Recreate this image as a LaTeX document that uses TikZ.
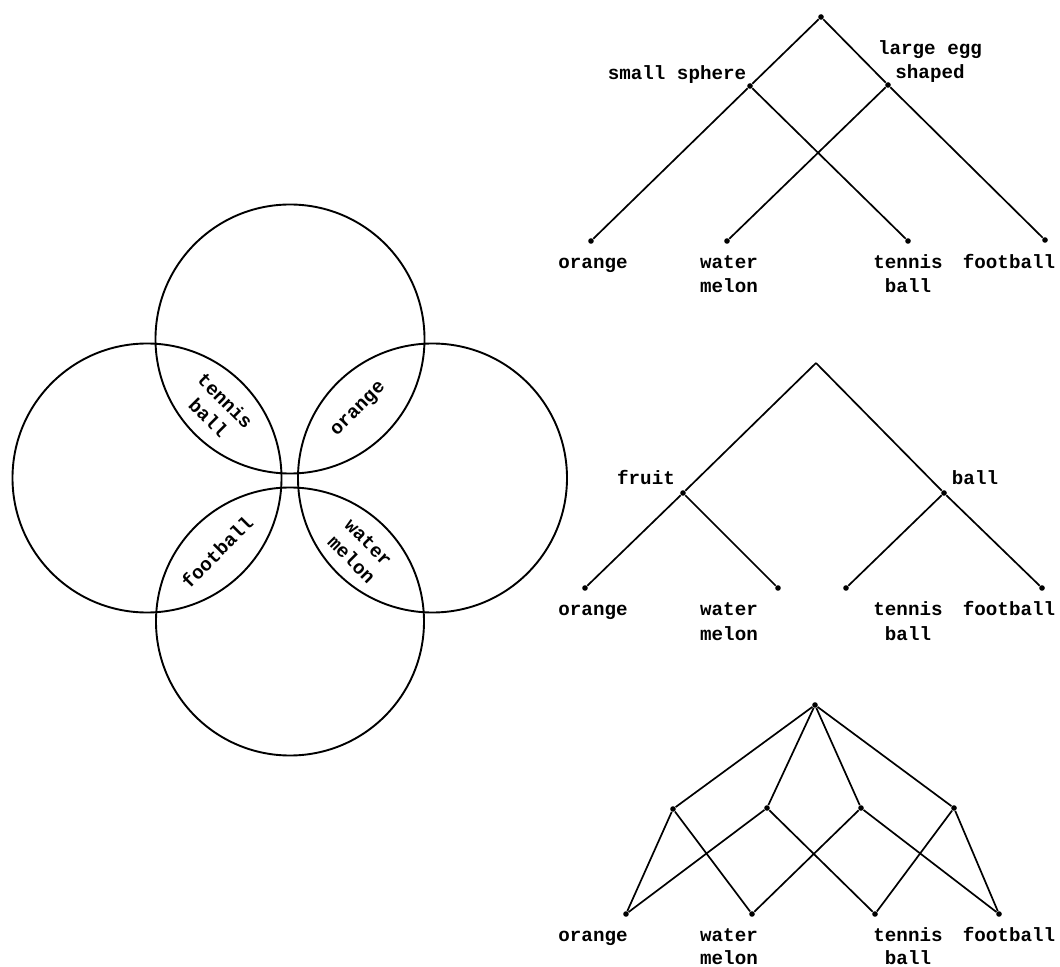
\documentclass[tikz,border=0pt]{standalone}
\usepackage{fontspec}
\setmonofont{Liberation Mono}
\begin{document}
\begin{tikzpicture}[x=0.5pt,y=-0.5pt,
  ring/.style={line width=0.95pt},
  edge/.style={line width=0.85pt},
  dotn/.style={circle,fill=black,inner sep=0pt,minimum size=2.8pt},
  lbl/.style={font=\ttfamily\bfseries\fontsize{9.6}{12}\selectfont,inner sep=0pt,align=center},
  wd/.style={lbl,anchor=base}]
\useasboundingbox (0,0) rectangle (1060,967);
% ---------- circles ----------
\draw[ring] (290,339) circle[radius=134.5];
\draw[ring] (147,478) circle[radius=134.5];
\draw[ring] (432.5,478) circle[radius=134.5];
\draw[ring] (290,621.5) circle[radius=134];
\node[lbl,rotate=-45] (ctb) at (217,409) {tennis\\ball};
\node[lbl,rotate=45] (cor) at (359,410) {orange};
\node[lbl,rotate=45] (cfb) at (217,552) {football};
\node[lbl,rotate=-45] (cwm) at (360,551) {water\\melon};
% ---------- tree 1 ----------
\node[dotn] (r1) at (821,17) {};
\node[dotn] (s1) at (750,86) {};
\node[dotn] (g1) at (888,85) {};
\node[dotn] (o1) at (591,241) {};
\node[dotn] (w1) at (727,241) {};
\node[dotn] (t1) at (908,241) {};
\node[dotn] (f1) at (1045,240) {};
\draw[edge] (r1) -- (s1) -- (o1);
\draw[edge] (r1) -- (g1) -- (f1);
\draw[edge] (s1) -- (t1);
\draw[edge] (g1) -- (w1);
\node[wd] (ls1) at (677,80) {small sphere};
\node[wd] (lg1a) at (930,55) {large egg};
\node[wd] (lg1b) at (930,79) {shaped};
\node[wd] (lo1) at (593,269) {orange};
\node[wd] (lw1a) at (729,269) {water};
\node[wd] (lw1b) at (729,293) {melon};
\node[wd] (lt1a) at (908,269) {tennis};
\node[wd] (lt1b) at (908,293) {ball};
\node[wd] (lf1) at (1009,269) {football};
% ---------- tree 2 ----------
\coordinate (r2) at (816,363);
\node[dotn] (fr2) at (683,493) {};
\node[dotn] (b2) at (944,493) {};
\node[dotn] (o2) at (585,588) {};
\node[dotn] (w2) at (778,588) {};
\node[dotn] (t2) at (846,588) {};
\node[dotn] (f2) at (1042,588) {};
\draw[edge] (r2) -- (fr2) -- (o2);
\draw[edge] (fr2) -- (w2);
\draw[edge] (r2) -- (b2) -- (f2);
\draw[edge] (b2) -- (t2);
\node[wd] (lfr2) at (646,485) {fruit};
\node[wd] (lb2) at (975,485) {ball};
\node[wd] (lo2) at (593,616) {orange};
\node[wd] (lw2a) at (729,616) {water};
\node[wd] (lw2b) at (729,640) {melon};
\node[wd] (lt2a) at (908,616) {tennis};
\node[wd] (lt2b) at (908,640) {ball};
\node[wd] (lf2) at (1009,616) {football};
% ---------- tree 3 ----------
\node[dotn] (r3) at (815,705) {};
\node[dotn] (a3) at (673,809) {};
\node[dotn] (b3) at (767,808) {};
\node[dotn] (c3) at (861,808) {};
\node[dotn] (d3) at (954,808) {};
\node[dotn] (o3) at (626,914) {};
\node[dotn] (w3) at (752,914) {};
\node[dotn] (t3) at (875,914) {};
\node[dotn] (f3) at (999,914) {};
\draw[edge] (r3) -- (a3);
\draw[edge] (r3) -- (b3);
\draw[edge] (r3) -- (c3);
\draw[edge] (r3) -- (d3);
\draw[edge] (a3) -- (o3);
\draw[edge] (a3) -- (w3);
\draw[edge] (b3) -- (o3);
\draw[edge] (b3) -- (t3);
\draw[edge] (c3) -- (w3);
\draw[edge] (c3) -- (f3);
\draw[edge] (d3) -- (t3);
\draw[edge] (d3) -- (f3);
\node[wd] (lo3) at (593,941) {orange};
\node[wd] (lw3a) at (729,941) {water};
\node[wd] (lw3b) at (729,964) {melon};
\node[wd] (lt3a) at (908,941) {tennis};
\node[wd] (lt3b) at (908,964) {ball};
\node[wd] (lf3) at (1009,941) {football};
\end{tikzpicture}
\end{document}
